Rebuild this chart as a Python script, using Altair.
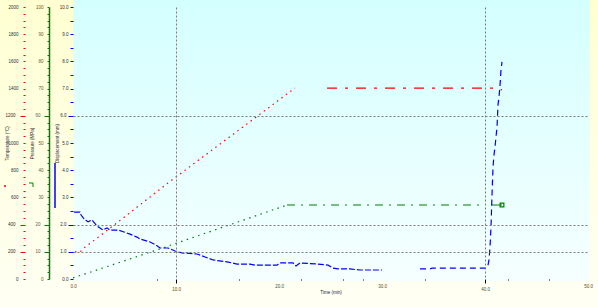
import altair as alt
import pandas as pd

# ---------------- data ----------------
# Temperature (deg C) vs time (min)
red_ramp_time = [0.19, 0.68, 1.07, 4.37, 9.22, 21.55]
red_ramp_temp = [199, 199, 228, 419, 706, 1404]
red_hold_time = [24.66, 41.26, 41.65]
red_hold_temp = [1404, 1404, 1390]

# Pressure (MPa) vs time (min)
green_ramp_time = [0.0, 8.16, 20.78]
green_ramp_pres = [0.4, 10.7, 27.2]
green_hold_time = [20.78, 40.0]
green_hold_pres = [27.2, 27.2]
green_end_time = [40.58, 41.65]
green_end_pres = [27.2, 27.2]

# Displacement (mm) vs time (min)
blue_a_time = [0.10, 0.68, 0.78, 1.07, 1.46, 1.84, 2.33, 2.91, 3.30, 3.59, 4.37, 4.95,
               5.53, 6.21, 6.50, 7.48, 8.06, 8.45, 9.22, 9.90, 10.58, 12.04, 12.82,
               13.59, 14.95, 15.92, 17.18, 17.67, 19.81, 20.10, 21.36, 21.65, 22.04,
               23.79, 24.76, 25.24, 25.73, 26.89, 27.86, 30.00]
blue_a_disp = [2.46, 2.46, 2.35, 2.21, 2.10, 2.17, 1.95, 1.80, 1.88, 1.80, 1.80, 1.73,
               1.65, 1.54, 1.47, 1.36, 1.25, 1.14, 1.14, 1.03, 0.96, 0.92, 0.81,
               0.70, 0.63, 0.55, 0.55, 0.51, 0.51, 0.59, 0.59, 0.48, 0.59,
               0.55, 0.51, 0.40, 0.37, 0.37, 0.33, 0.33]
blue_b_time = [33.69, 34.66, 34.85, 38.35, 39.71, 40.19, 40.29, 40.39, 40.49, 40.59,
               40.68, 40.78, 40.87, 40.97, 41.17, 41.26, 41.36, 41.46, 41.55, 41.65]
blue_b_disp = [0.37, 0.37, 0.40, 0.40, 0.40, 0.40, 0.51, 0.70, 1.20, 2.00,
               3.10, 4.12, 4.56, 4.85, 5.60, 6.40, 6.69, 7.13, 7.68, 7.98]

# axis tick values
time_major = [0, 10, 20, 30, 40, 50]
time_minor = [8.2, 16.1, 22.1, 26.2, 28.2, 34.2, 42.2, 46.2]
temp_ticks = list(range(0, 2001, 50))
pres_ticks = [i * 2.5 for i in range(41)]
disp_ticks = [i * 0.5 for i in range(21)]

FONT = "Liberation Sans"


def seg_df(t, v, name):
    return pd.DataFrame({"t": t, "v": v, "seg": [name] * len(t)})


red_df = pd.concat([seg_df(red_ramp_time, red_ramp_temp, "r1"),
                    seg_df(red_hold_time, red_hold_temp, "r2")])
green_df = pd.concat([seg_df(green_ramp_time, green_ramp_pres, "g1"),
                      seg_df(green_hold_time, green_hold_pres, "g2"),
                      seg_df(green_end_time, green_end_pres, "g3")])
green_pt = pd.DataFrame({"t": [green_end_time[-1]], "v": [green_end_pres[-1]]})
blue_df = pd.concat([seg_df(blue_a_time, blue_a_disp, "b1"),
                     seg_df(blue_b_time, blue_b_disp, "b2")])
dummy = pd.DataFrame({"a": [0]})

dash = alt.StrokeDash(
    "seg:N",
    scale=alt.Scale(domain=["r1", "r2", "g1", "g2", "g3", "b1", "b2"],
                    range=[[1.5, 4], [10, 8, 3, 8], [1.5, 4.5], [8, 6, 2, 6], [10, 0],
                           [6, 2], [6, 4]]),
    legend=None,
)

x_enc = alt.X(
    "t:Q",
    scale=alt.Scale(domain=[0, 50], nice=False),
    axis=alt.Axis(
        values=time_major + time_minor,
        labelExpr="datum.value % 10 == 0 ? format(datum.value, '.1f') : ''",
        title="Time (min)",
        titleFontSize=4.5, titleFont=FONT, titleColor="#202040", titleFontWeight="normal",
        titleY=13, titleBaseline="middle",
        labelFontSize=4.5, labelFont=FONT, labelColor="#505030", labelPadding=3,
        labelOverlap=False, labelFlush=False,
        domain=False, tickColor="black", tickWidth=1,
        tickSize={"condition": {"test": "datum.value == 10 || datum.value == 40", "value": 4}, "value": 1},
        tickOpacity={"condition": {"test": "datum.value == 0 || datum.value == 20 || datum.value == 30 || datum.value == 50", "value": 0}, "value": 1},
        grid=True, gridColor="#7a7a7a", gridDash=[2, 2], gridWidth=1,
        gridOpacity={"condition": {"test": "datum.value == 10 || datum.value == 40", "value": 1}, "value": 0},
        zindex=1,
    ),
)


def left_axis(title, values, label_expr, offset, color, long_test, small, long_, pad,
              title_x, domain=False, grid=False, label_color="#303030"):
    kw = dict(
        orient="left", offset=offset, values=values, labelExpr=label_expr,
        title=title, titleFontSize=4.5, titleFont=FONT, titleColor="#303030",
        titleFontWeight="normal", titleX=title_x, titleY=136, titleAngle=270,
        titleAlign="center", titleBaseline="middle",
        labelFontSize=4.5, labelFont=FONT, labelColor=label_color, labelPadding=pad,
        labelOverlap=False, labelFlush=False,
        tickColor=color, tickWidth=1,
        tickSize={"condition": {"test": long_test, "value": long_}, "value": small},
        domain=domain, grid=grid, zindex=1,
    )
    if domain:
        kw.update(domainColor=color, domainWidth=1.5)
    if grid:
        kw.update(gridColor="#7a7a7a", gridDash=[2, 2], gridWidth=1,
                  gridOpacity={"condition": {"test": long_test, "value": 1}, "value": 0})
    return alt.Axis(**kw)


temp_axis = left_axis("Temperature (°C)", temp_ticks,
                      "datum.value % 200 == 0 ? format(datum.value, 'd') : ''",
                      48, "#FF0000", "datum.value == 200 || datum.value == 400 || datum.value == 1200",
                      2, 5, 5, -18)
pres_axis = left_axis("Pressure (MPa)", pres_ticks,
                      "datum.value % 10 == 0 ? format(datum.value, 'd') : ''",
                      24, "#008000", "datum.value == 10 || datum.value == 20 || datum.value == 60",
                      2, 5, 4, -17, domain=True, label_color="#606040")
disp_axis = left_axis("Displacement (mm)", disp_ticks,
                      "datum.value % 1 == 0 ? format(datum.value, '.1f') : ''",
                      0, "#0000FF", "datum.value == 1 || datum.value == 2 || datum.value == 6",
                      3, 5, 2, -16, grid=True)

yellow = alt.LinearGradient(
    gradient="linear", x1=0, x2=0, y1=0, y2=1,
    stops=[alt.GradientStop(color="#FFFFD2", offset=0),
           alt.GradientStop(color="#FFFFF4", offset=1)])
cyan = alt.LinearGradient(
    gradient="linear", x1=0, x2=0, y1=0, y2=1,
    stops=[alt.GradientStop(color="#D4FFFF", offset=0),
           alt.GradientStop(color="#F6FFFF", offset=1)])

bg_all = alt.Chart(dummy).mark_rect(fill=yellow).encode(
    x=alt.value(-73), x2=alt.value(525), y=alt.value(-7), y2=alt.value(300))
bg_plot = alt.Chart(dummy).mark_rect(fill=cyan).encode(
    x=alt.value(0), x2=alt.value(517), y=alt.value(-7), y2=alt.value(274))

temp_layer = alt.Chart(red_df).mark_line(color="#FF0000", strokeWidth=1.2).encode(
    x=x_enc,
    y=alt.Y("v:Q", scale=alt.Scale(domain=[0, 2000], nice=False), axis=temp_axis),
    detail="seg:N", strokeDash=dash)

green_line = alt.Chart(green_df).mark_line(color="#008000", strokeWidth=1.2).encode(
    x=x_enc,
    y=alt.Y("v:Q", scale=alt.Scale(domain=[0, 100], nice=False), axis=pres_axis),
    detail="seg:N", strokeDash=dash)
green_mark = alt.Chart(green_pt).mark_point(shape="square", filled=False, color="#008000",
                                             size=14, strokeWidth=1.2, opacity=1).encode(
    x=x_enc, y=alt.Y("v:Q", scale=alt.Scale(domain=[0, 100], nice=False), axis=pres_axis))
pres_layer = alt.layer(green_line, green_mark)

disp_layer = alt.Chart(blue_df).mark_line(color="#0000FF", strokeWidth=1.2).encode(
    x=x_enc,
    y=alt.Y("v:Q", scale=alt.Scale(domain=[0, 10], nice=False), axis=disp_axis),
    detail="seg:N", strokeDash=dash)

# small line-style samples beside the axis titles
sample_blue = alt.Chart(dummy).mark_rule(color="#0000FF", strokeWidth=1.5).encode(
    x=alt.value(-18), y=alt.value(156), y2=alt.value(201))
sample_green_h = alt.Chart(dummy).mark_rule(color="#008000", strokeWidth=1).encode(
    x=alt.value(-44), x2=alt.value(-40), y=alt.value(176))
sample_green_v = alt.Chart(dummy).mark_rule(color="#008000", strokeWidth=1).encode(
    x=alt.value(-40), y=alt.value(176), y2=alt.value(180))
sample_red = alt.Chart(dummy).mark_rule(color="#FF0000", strokeWidth=1.5).encode(
    x=alt.value(-69), x2=alt.value(-67), y=alt.value(179))

chart = alt.layer(
    bg_all, bg_plot, temp_layer, pres_layer, disp_layer,
    sample_blue, sample_green_h, sample_green_v, sample_red,
).resolve_scale(y="independent").properties(
    width=515, height=272,
    autosize=alt.AutoSizeParams(type="none"),
    padding={"left": 73, "top": 7, "right": 10, "bottom": 28},
    background="#FFFFEE",
).configure_view(strokeWidth=0)

chart.save("out.html", embed_options={"renderer": "svg", "actions": False})
